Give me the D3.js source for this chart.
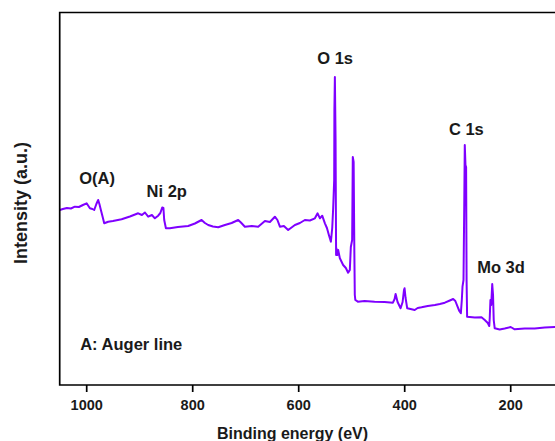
<!DOCTYPE html>
<html>
<head>
<meta charset="utf-8">
<script src="https://cdn.jsdelivr.net/npm/d3@7"></script>
<style>
  html, body { margin: 0; padding: 0; background: #fff; }
  svg { display: block; }
  text { font-family: "Liberation Sans", Arial, sans-serif; font-weight: bold; fill: #1a1a1a; }
</style>
</head>
<body>
<svg id="chart" width="555" height="441"></svg>
<script>
// Binding energy (eV) and intensity (a.u.)
const bindingEnergy = [
  1050, 1044, 1036.4, 1028.9, 1021.3, 1013.8, 1006.2, 999.2, 995.8, 993, 988.3, 984.9, 980.8, 977.4, 975.1, 972.3, 969.4, 966,
  958.5, 949.6, 933.2, 917.5, 901.9, 894.9, 889.2, 883, 876, 870.4, 864.2, 860.1, 856.6, 854.3, 852.8, 849.6, 842.1,
  827, 807.6, 794.9, 782.3, 776, 769.8, 760.9, 750.9, 738.3, 725.6, 713.2, 708.1, 700.6, 687.4, 675.5, 662.8, 653.4,
  644, 639.2, 634.5, 627, 618.9, 606.2, 596.8, 587.4, 578, 568.5, 563.4, 559, 554.7, 549.6, 545.8, 542.1, 538.3,
  535.8, 534, 532.1, 531.7, 530.8, 529.5, 528.5, 528, 526.1, 524.6, 521.4, 515.2, 510.1, 505.8, 502.6, 500.7, 498.2,
  497, 495.4, 494.1, 493.2, 492.2, 487.4, 474.8, 455.9, 437, 421.3, 418.1, 416.2, 412.5, 406.8, 403, 400.4, 399.3,
  397.4, 394.3, 388, 380.2, 374.6, 367.3, 355.5, 342.1, 332.7, 323.3, 313.9, 307.6, 303.5, 299.3, 296, 293.1, 291.3,
  290, 288.1, 286.6, 285.7, 284.4, 283.2, 282.3, 281.3, 276.3, 266.8, 254.2, 248, 242.3, 239.5, 238.6, 237.3, 235.8,
  233.9, 232.4, 231.1, 229.2, 219.8, 210.4, 199.1, 191.5, 172.7, 153.8, 134.9, 116, 97
];
const intensity = [
  175, 176, 177, 176.5, 178.3, 178, 180, 181.7, 179, 176.7, 176, 175, 181, 185, 181, 175, 169, 161.7,
  163.3, 164, 165.7, 168.5, 171.7, 170, 172.5, 168.3, 170, 166.7, 169.3, 172, 177.5, 177, 165, 156.7, 156.7,
  158, 159, 161.5, 165, 162, 160, 158.5, 157.7, 160, 162, 165, 162.5, 158.3, 159, 158.3, 164, 163,
  168.3, 165, 158.3, 159, 155, 160, 162, 165, 164.5, 166.7, 171.7, 166.7, 169.3, 161.7, 157, 150, 143.3,
  157, 177, 205, 275, 308, 245, 130, 137, 130, 135, 126.7, 120, 117, 112.3, 115, 138, 145,
  228, 223, 135, 90, 85, 83.3, 84, 83.3, 83, 82.3, 86, 91, 83, 76.7, 83, 95, 96.7,
  87, 76.7, 76, 75, 77, 77.7, 79, 80, 81, 82.3, 84.5, 86, 84, 78.3, 74, 71.7, 85,
  98.3, 105, 185, 240, 220, 218, 105, 68.3, 68, 67.5, 67.7, 65, 62, 59, 67, 85, 80,
  101, 90, 65, 56.7, 55.5, 56.5, 58, 55.7, 56.5, 56.5, 57.5, 58, 58
];
const xTicks = [1000, 800, 600, 400, 200];
const annotations = ["O(A)", "Ni 2p", "O 1s", "C 1s", "Mo 3d", "A: Auger line"];
const annotationEnergy = [1013.2, 886, 564.1, 315.7, 262.3, 1011.3];
const annotationLevel = [201, 188.3, 321, 250, 111.7, 35];

const svg = d3.select("#chart");
const plotLeft = 59.7, plotTop = 12.5, plotBottom = 385;
const x = d3.scaleLinear().domain([1050, 100]).range([plotLeft, plotLeft + 950 * 0.53]);
const y = d3.scaleLinear().domain([0, 372.5]).range([plotBottom, plotTop]);

// spectrum
const pts = bindingEnergy.map((e, i) => [e, intensity[i]]);
svg.append("path")
  .datum(pts)
  .attr("fill", "none")
  .attr("stroke", "#7f00ff")
  .attr("stroke-width", 2)
  .attr("stroke-linejoin", "round")
  .attr("d", d3.line().x(d => x(d[0])).y(d => y(d[1])));

// frame
const plotRight = x.range()[1];
svg.append("path")
  .attr("fill", "none").attr("stroke", "#000").attr("stroke-width", 1.7)
  .attr("d", `M${plotRight},${plotTop}H${plotLeft}V${plotBottom}H${plotRight}V${plotTop}`);

// x axis
const ax = svg.append("g").attr("transform", `translate(0,${plotBottom})`)
  .call(d3.axisBottom(x).tickValues(xTicks).tickSize(7).tickPadding(7.3).tickFormat(d3.format("d")));
ax.select(".domain").remove();
ax.selectAll(".tick line").attr("stroke", "#000").attr("stroke-width", 1.7);
ax.selectAll(".tick text").attr("font-size", 14.5).attr("font-family", "Liberation Sans, Arial, sans-serif")
  .attr("font-weight", "bold").attr("fill", "#1a1a1a");

// titles
svg.append("text").attr("x", 292.5).attr("y", 439).attr("text-anchor", "middle")
  .attr("font-size", 16).text("Binding energy (eV)");
svg.append("text").attr("transform", "translate(26.5,203) rotate(-90)").attr("text-anchor", "middle")
  .attr("font-size", 18).text("Intensity (a.u.)");

// peak annotations
svg.selectAll("text.ann").data(annotations).enter().append("text")
  .attr("class", "ann")
  .attr("x", (d, i) => x(annotationEnergy[i]))
  .attr("y", (d, i) => y(annotationLevel[i]))
  .attr("font-size", 16.5)
  .text(d => d);
</script>
</body>
</html>
